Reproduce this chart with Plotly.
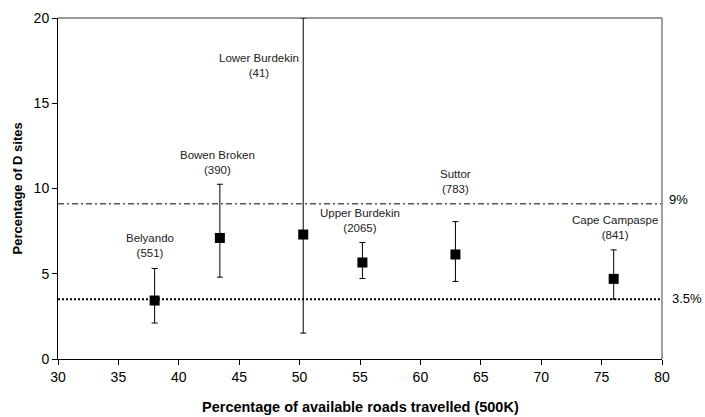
import plotly.graph_objects as go

regions = ["Belyando", "Bowen Broken", "Lower Burdekin", "Upper Burdekin", "Suttor", "Cape Campaspe"]
counts = ["551", "390", "41", "2065", "783", "841"]
roads_pct = [38.0, 43.4, 50.3, 55.2, 62.9, 76.0]
d_sites_pct = [3.43, 7.1, 7.3, 5.66, 6.13, 4.7]
err_upper = [5.31, 10.25, 20.0, 6.83, 8.06, 6.4]
err_lower = [2.11, 4.8, 1.52, 4.72, 4.55, 3.51]
label_x = [37.6, 43.2, 46.6, 55.0, 62.9, 76.1]
label_y = [6.68, 11.55, 17.24, 8.12, 10.43, 7.73]
ref_lines = [9.1, 3.5]
ref_labels = ["9%", "3.5%"]
x_ticks = [30, 35, 40, 45, 50, 55, 60, 65, 70, 75, 80]
y_ticks = [0, 5, 10, 15, 20]

font = "Liberation Sans, Arial, sans-serif"
L, R, T, B = 58, 43, 18, 58
W, H = 705, 417
pw, ph = W - L - R, H - T - B

fig = go.Figure()
fig.add_trace(go.Scatter(
    x=roads_pct, y=d_sites_pct, mode="markers",
    marker=dict(symbol="square", size=10, color="black"),
    error_y=dict(type="data", symmetric=False,
                 array=[u - v for u, v in zip(err_upper, d_sites_pct)],
                 arrayminus=[v - l for v, l in zip(d_sites_pct, err_lower)],
                 color="black", thickness=1, width=3),
    showlegend=False, cliponaxis=False,
))

# reference lines
fig.add_shape(type="line", xref="paper", x0=0, x1=1, yref="y", y0=ref_lines[0], y1=ref_lines[0],
              line=dict(color="black", width=1, dash="6px,3px,2px,3px"))
fig.add_shape(type="line", xref="paper", x0=0, x1=1, yref="y", y0=ref_lines[1], y1=ref_lines[1],
              line=dict(color="black", width=2, dash="2px,2px"))
for v, t, cx, dy in zip(ref_lines, ref_labels, [678, 687], [4, 1]):
    fig.add_annotation(x=(cx - L) / pw, xref="paper", xanchor="center", y=v, yref="y", yshift=dy,
                       text=t, showarrow=False, font=dict(family=font, size=13, color="black"))

# top and right frame
fig.add_shape(type="line", xref="paper", yref="paper", x0=0, x1=1, y0=1, y1=1,
              line=dict(color="#333333", width=1))
fig.add_shape(type="line", xref="paper", yref="paper", x0=1, x1=1, y0=0, y1=1,
              line=dict(color="#808080", width=1.5))

for name, n, lx, ly in zip(regions, counts, label_x, label_y):
    fig.add_annotation(x=lx, y=ly, xref="x", yref="y", yanchor="middle",
                       text=name + "<br>(" + n + ")", showarrow=False, align="center",
                       font=dict(family=font, size=11.5, color="#222222"))

# axis titles
fig.add_annotation(x=(360 - L) / pw, xref="paper", y=-(407 - T - ph) / ph, yref="paper",
                   yanchor="middle", xanchor="center", showarrow=False,
                   text="<b>Percentage of available roads travelled (500K)</b>",
                   font=dict(family=font, size=14.5, color="black"))
fig.add_annotation(x=-(L - 17) / pw, xref="paper", y=0.5, yref="paper",
                   yanchor="middle", xanchor="center", showarrow=False, textangle=-90,
                   text="<b>Percentage of D sites</b>",
                   font=dict(family=font, size=13, color="black"))

fig.update_layout(
    width=W, height=H,
    margin=dict(l=L, r=R, t=T, b=B),
    plot_bgcolor="white", paper_bgcolor="white",
    font=dict(family=font, color="black"),
)
fig.update_xaxes(range=[30, 80], tickvals=x_ticks, ticks="outside", ticklen=5, tickcolor="black",
                 showline=True, linecolor="black", linewidth=1, showgrid=False, zeroline=False,
                 tickfont=dict(size=14, family=font), automargin=False)
fig.update_yaxes(range=[0, 20], tickvals=y_ticks, ticks="outside", ticklen=5, tickcolor="black",
                 showline=True, linecolor="black", linewidth=1, showgrid=False, zeroline=False,
                 tickfont=dict(size=14, family=font), automargin=False)

fig.write_html("out.html", config={"displayModeBar": False},
               post_script="document.body.style.margin='0';document.body.style.overflow='hidden';")
